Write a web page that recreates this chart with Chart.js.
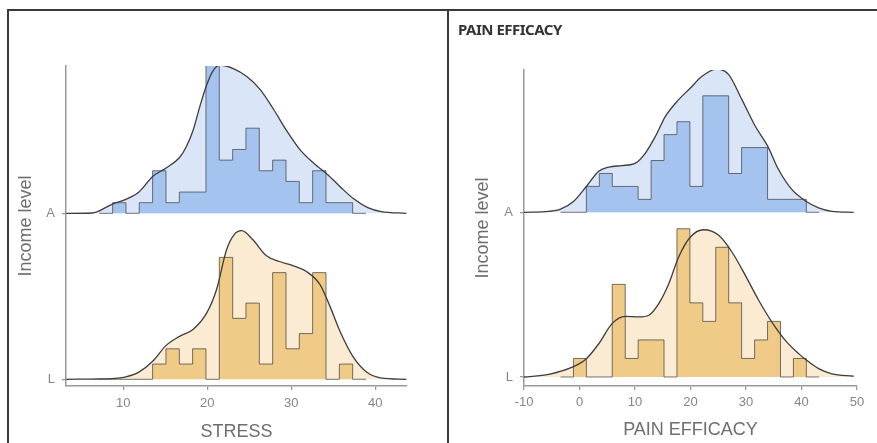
<!DOCTYPE html>
<html>
<head>
<meta charset="utf-8">
<script src="https://cdn.jsdelivr.net/npm/chart.js@4.4.0/dist/chart.umd.min.js"></script>
<style>
html, body { margin: 0; padding: 0; background: #fff; }
#wrap { position: relative; width: 877px; height: 443px; overflow: hidden; }
.frame { position: absolute; background: #3a3a3a; }
canvas { position: absolute; }
#head { position: absolute; left: 458px; top: 22px; font: 700 15px "Noto Sans"; line-height: 15px; letter-spacing: -0.5px; color: #333; }
</style>
</head>
<body>
<div id="wrap">
  <div class="frame" style="left:7px;top:9px;width:870px;height:2px"></div>
  <div class="frame" style="left:7px;top:9px;width:2px;height:434px"></div>
  <div class="frame" style="left:447px;top:9px;width:2px;height:434px"></div>
  <canvas id="stress" width="436" height="431" style="left:10px;top:12px"></canvas>
  <canvas id="pain" width="428" height="431" style="left:449px;top:12px"></canvas>
  <div id="head">PAIN EFFICACY</div>
</div>
<script>
// =========================== Data
const levels = ['A', 'L']
const stressTicks = [10, 20, 30, 40]
const painTicks = [-10, 0, 10, 20, 30, 40, 50]

// histogram bin edges + counts
const stressEdges = [7.14, 8.73, 10.32, 11.90, 13.49, 15.08, 16.67, 18.25, 19.84, 21.43, 23.02,
                     24.60, 26.19, 27.78, 29.37, 30.95, 32.54, 34.13, 35.72, 37.30, 38.89]
const stressCountA = [0, 1, 0, 1, 4, 1, 2, 2, 14, 5, 6, 8, 4, 5, 3, 1, 4, 1, 1, 0]
const stressCountL = [0, 0, 0, 0, 1, 2, 1, 2, 0, 8, 4, 5, 1, 7, 2, 3, 7, 0, 1, 0]

const painEdges = [-3.42, -1.09, 1.24, 3.57, 5.90, 8.24, 10.57, 12.90, 15.23, 17.56, 19.89,
                   22.22, 24.55, 26.88, 29.21, 31.55, 33.88, 36.21, 38.54, 40.87, 43.20]
const painCountA = [0, 0, 2, 3, 2, 2, 1, 4, 6, 7, 2, 9, 9, 3, 5, 5, 1, 1, 1, 0]
const painCountL = [0, 1, 0, 0, 5, 1, 2, 2, 0, 8, 4, 3, 7, 4, 1, 2, 3, 0, 1, 0]

// density curves
const stressCurveAX = [3.2, 6.3, 8.7, 10.3, 11.9, 13.5, 15.0, 16.7, 17.5, 18.3, 19.1, 19.9, 20.7, 21.5,
                       23.1, 24.7, 26.3, 27.9, 29.5, 31.1, 32.7, 34.3, 35.9, 37.5, 39.1, 40.7, 43.7]
const stressCurveAY = [0, 0.0003, 0.0087, 0.0131, 0.0203, 0.0346, 0.0421, 0.0524, 0.0625, 0.0777, 0.0999,
                       0.1199, 0.1339, 0.1389, 0.1358, 0.1283, 0.1161, 0.0974, 0.0768, 0.0590, 0.0468,
                       0.0365, 0.0243, 0.0131, 0.0053, 0.0016, 0]
const stressCurveLX = [3.2, 7.0, 8.7, 10.3, 11.9, 13.5, 15.1, 16.7, 18.3, 19.9, 21.1, 22.3, 23.2, 24.1,
                       25.4, 27.0, 28.6, 30.2, 31.8, 33.4, 34.6, 35.8, 37.4, 39.0, 40.6, 43.7]
const stressCurveLY = [0, 0.0003, 0.0007, 0.0023, 0.0070, 0.0169, 0.0318, 0.0403, 0.0468, 0.0618, 0.0843,
                       0.1217, 0.1358, 0.1395, 0.1311, 0.1161, 0.1105, 0.1067, 0.1011, 0.0890, 0.0684,
                       0.0449, 0.0206, 0.0066, 0.0014, 0]

const painCurveAX = [-10, -5.53, -3.42, -1.03, 1.37, 3.47, 5.27, 7.67, 10.08, 11.88, 13.68, 15.48, 17.87,
                     19.98, 22.07, 24.77, 26.88, 29.27, 31.68, 33.93, 35.86, 38.29, 40.81, 43.08, 45.47, 49.4]
const painCurveAY = [0, 0.0005, 0.0017, 0.0058, 0.0141, 0.0216, 0.0238, 0.0246, 0.0259, 0.0312, 0.0400,
                     0.0505, 0.0593, 0.0654, 0.0716, 0.0754, 0.0725, 0.0593, 0.0453, 0.0347, 0.0225,
                     0.0119, 0.0058, 0.0023, 0.0005, 0]
const painCurveLX = [-10, -5.53, -1.21, 1.19, 3.47, 5.87, 8.28, 10.67, 12.48, 14.28, 16.08, 17.87, 19.98,
                     22.38, 25.08, 27.47, 29.88, 32.28, 34.67, 37.08, 39.48, 40.79, 43.08, 45.47, 49.4]
const painCurveLY = [0, 0.0014, 0.0053, 0.0095, 0.0175, 0.0281, 0.0319, 0.0316, 0.0325, 0.0386, 0.0491,
                     0.0632, 0.0737, 0.0775, 0.0746, 0.0658, 0.0535, 0.0404, 0.0289, 0.0193, 0.0123,
                     0.0091, 0.0044, 0.0017, 0.0004]

// =========================== Helpers
const BLUE = '#A5C3EF', BLUE_LIGHT = '#DAE6F8'
const GOLD = '#F0CB87', GOLD_LIGHT = '#FAEBD2'
const AXIS = '#999999'

function histPoints(edges, counts, base){
    const n = counts.reduce((a, b) => a + b, 0)
    const w = edges[1] - edges[0]
    const pts = [{x: edges[0], y: base}]
    counts.forEach((c, i) => pts.push({x: edges[i], y: base + c / (n * w)}))
    const last = edges[edges.length - 1]
    pts.push({x: last, y: base + counts[counts.length - 1] / (n * w)})
    pts.push({x: last, y: base})
    return pts
}

function curvePoints(xs, ys, base){
    return xs.map((x, i) => ({x: x, y: base + ys[i]}))
}

function ridge(edges, counts, cx, cy, base, dark, light){
    return [{
        data: curvePoints(cx, cy, base),
        borderColor: '#3d3d3d', borderWidth: 1.3, fill: false,
        pointRadius: 0, cubicInterpolationMode: 'monotone', order: 0
    },{
        // 'before' = run horizontally at the previous value, then step
        data: histPoints(edges, counts, base),
        stepped: 'before', borderColor: 'rgba(60,60,60,0.7)', borderWidth: 1,
        backgroundColor: dark, fill: {value: base}, pointRadius: 0, order: 1
    },{
        data: curvePoints(cx, cy, base),
        borderColor: 'transparent', borderWidth: 0, backgroundColor: light,
        fill: {value: base}, pointRadius: 0, cubicInterpolationMode: 'monotone', order: 2
    }]
}

function dash(id, cfg){
    new Chart(document.getElementById(id), {
        type: 'line',
        data: {datasets: cfg.datasets},
        options: {
            responsive: false,
            animation: false,
            layout: {padding: cfg.padding},
            plugins: {legend: {display: false}, tooltip: {enabled: false}},
            scales: {
                x: {
                    type: 'linear', min: cfg.xmin, max: cfg.xmax,
                    afterFit: s => { s.height = 57 },
                    afterBuildTicks: s => { s.ticks = cfg.xticks.map(v => ({value: v})) },
                    grid: {drawOnChartArea: false, tickLength: 4, color: AXIS, lineWidth: 1.3},
                    border: {color: AXIS, width: 1.5},
                    ticks: {font: {family: 'Liberation Sans', size: 13}, color: '#858585',
                            padding: cfg.tickPad, maxRotation: 0},
                    title: {display: true, text: cfg.xtitle, color: '#6e6e6e',
                            font: {family: 'Liberation Sans', size: 18},
                            padding: {top: 0, bottom: cfg.titlePad}}
                },
                y: {
                    type: 'linear', min: cfg.ymin, max: cfg.ymax,
                    afterFit: s => { s.width = cfg.yWidth },
                    afterBuildTicks: s => { s.ticks = [{value: 0}, {value: cfg.gap}] },
                    grid: {drawOnChartArea: false, tickLength: 4, color: AXIS, lineWidth: 1.3},
                    border: {color: AXIS, width: 1.5},
                    ticks: {font: {family: 'Liberation Sans', size: 13}, color: '#858585', padding: 7,
                            callback: (v, i) => levels[levels.length - 1 - i]},
                    title: {display: true, text: 'Income level', color: '#6e6e6e',
                            font: {family: 'Liberation Sans', size: 18},
                            padding: {top: cfg.yTitlePad, bottom: 0}}
                }
            }
        }
    })
}

// =========================== Charts
const stressGap = 0.1557
dash('stress', {
    datasets: [
        ...ridge(stressEdges, stressCountA, stressCurveAX, stressCurveAY, stressGap, BLUE, BLUE_LIGHT),
        ...ridge(stressEdges, stressCountL, stressCurveLX, stressCurveLY, 0, GOLD, GOLD_LIGHT)
    ],
    padding: {left: 0, top: 54, right: 39, bottom: 0},
    xmin: 3.18, xmax: 43.77, xticks: stressTicks, xtitle: 'STRESS',
    ymin: -0.00629, ymax: 0.2939, gap: stressGap,
    yWidth: 56, yTitlePad: 5, tickPad: 6, titlePad: 0
})

const painGap = 0.0867
dash('pain', {
    datasets: [
        ...ridge(painEdges, painCountA, painCurveAX, painCurveAY, painGap, BLUE, BLUE_LIGHT),
        ...ridge(painEdges, painCountL, painCurveLX, painCurveLY, 0, GOLD, GOLD_LIGHT)
    ],
    padding: {left: 0, top: 58, right: 20, bottom: 0},
    xmin: -10, xmax: 50, xticks: painTicks, xtitle: 'PAIN EFFICACY',
    ymin: -0.00474, ymax: 0.1616, gap: painGap,
    yWidth: 75, yTitlePad: 23, tickPad: 5, titlePad: 2
})
</script>
</body>
</html>
